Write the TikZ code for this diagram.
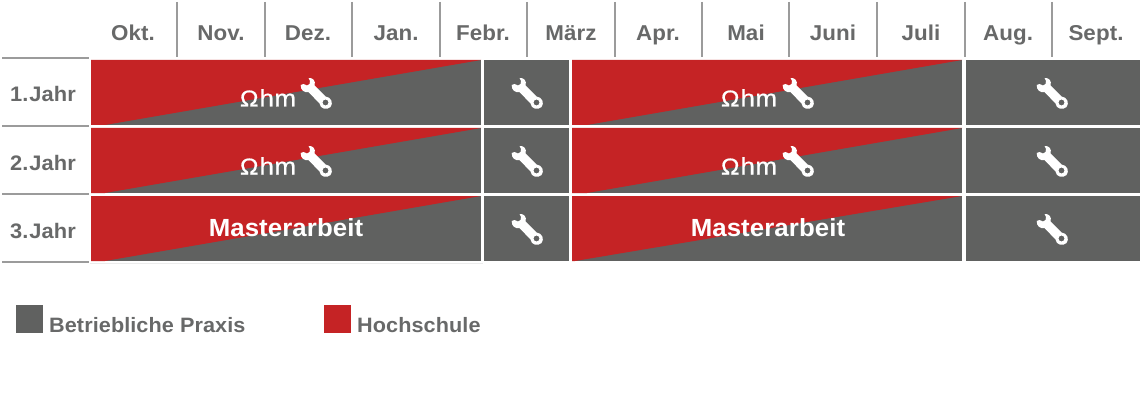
\documentclass[tikz,border=0pt]{standalone}
\usepackage{fontspec}
\setmainfont[LetterSpace=0.4,FakeStretch=1.04]{Liberation Sans}
\newfontfamily\logofont[FakeStretch=1.08,FakeBold=0.6]{Liberation Sans}
\definecolor{dgray}{RGB}{96,97,96}
\definecolor{dred}{RGB}{197,35,37}
\definecolor{lineg}{RGB}{155,155,155}
\definecolor{txtg}{RGB}{104,105,105}
\tikzset{
  x=1pt,y=-1pt,
  grayblock/.style={fill=dgray,draw=none},
  redwedge/.style={fill=dred,draw=none},
  headline/.style={draw=lineg,line width=1.5pt},
  rowline/.style={draw=lineg,line width=1.6pt},
  month/.style={font=\fontsize{21.5}{22}\selectfont\bfseries,text=txtg,inner sep=0pt,anchor=base},
  yearlab/.style={font=\fontsize{21}{22}\selectfont\bfseries,text=txtg,inner sep=0pt,anchor=base west},
  legend/.style={font=\fontsize{20.8}{21}\selectfont\bfseries,text=txtg,inner sep=0pt,anchor=base west},
  master/.style={font=\fontsize{24.8}{25}\selectfont\bfseries,text=white,inner sep=0pt,anchor=base},
  ohmlogo/.style={font=\logofont\fontsize{24}{25}\selectfont,text=white,inner sep=0pt,anchor=base},
  wrench/.pic={
    \fill[white,even odd rule]
      (-15.3,-8) .. controls (-15.5,-3) and (-12,0) .. (-7.5,-1)
      -- (3.5,10.5) .. controls (4,16) and (11,17.5) .. (14.5,14)
      .. controls (17.5,10.5) and (15.5,4) .. (9.5,3.5)
      -- (-1.5,-7.5) .. controls (0,-12) and (-3,-15.5) .. (-7.5,-15)
      -- (-6,-12) -- (-6.5,-9) -- (-9,-7.5) -- (-12.5,-9) -- cycle
      (9.5,9.5) circle[radius=3];
  }
}
\newcommand{\ohmtxt}{{\fontsize{23}{23}\selectfont Ω}\kern1pt h\kern.5pt m}
\begin{document}
\begin{tikzpicture}
\useasboundingbox (0,0) rectangle (1140,401);
\fill[white] (0,0) rectangle (1140,401);
% header ticks
\foreach \x in {177,265,352,440,527,615,702,789,877,965,1052}
  \draw[headline] (\x,2) -- (\x,57);
% months
\foreach \x/\t in {133/Okt.,221/Nov.,308/Dez.,396/Jan.,483/Febr.,571/März,658/Apr.,746/Mai,833/Juni,921/Juli,1008/Aug.,1096/Sept.}
  \node[month] at (\x,41) {\t};
% row lines
\foreach \y in {58,126,194,262}
  \draw[rowline] (2,\y) -- (89,\y);
% years
\node[yearlab] (y1) at (10,101.5) {1.\kern1pt Jahr};
\node[yearlab] (y2) at (10,170.5) {2.\kern1pt Jahr};
\node[yearlab] (y3) at (10,238.5) {3.\kern1pt Jahr};
% blocks
\draw[gray!15,line width=1.5pt] (90,263.5) -- (483,263.5);
\foreach \yy in {60,128,196}{
  \fill[grayblock] (91,\yy) rectangle (481,\yy+65);
  \fill[redwedge] (91,\yy) -- (481,\yy) -- (105,\yy+65) -- (91,\yy+65) -- cycle;
  \fill[grayblock] (484,\yy) rectangle (569,\yy+65);
  \fill[grayblock] (572,\yy) rectangle (962,\yy+65);
  \fill[grayblock] (966,\yy) rectangle (1140,\yy+65);
  \pic at (527,\yy+33) {wrench};
  \pic at (1052,\yy+33) {wrench};
}
\foreach \yy in {60,128}
  \fill[redwedge] (572,\yy) -- (962,\yy) -- (587,\yy+65) -- (572,\yy+65) -- cycle;
\fill[redwedge] (572,196) -- (962,196) -- (575,261) -- (572,261) -- cycle;
\pic at (316,93) {wrench};
\pic at (798,93) {wrench};
\pic at (316,161) {wrench};
\pic at (798,161) {wrench};
\node[ohmlogo] (o1) at (268,106.5) {\ohmtxt};
\node[ohmlogo] (o2) at (749,106.5) {\ohmtxt};
\node[ohmlogo] (o3) at (268,174.5) {\ohmtxt};
\node[ohmlogo] (o4) at (749,174.5) {\ohmtxt};
\node[master] (m1) at (286,236.5) {Masterarbeit};
\node[master] (m2) at (768,236.5) {Masterarbeit};
% legend
\fill[grayblock] (16,305) rectangle (43,333);
\fill[redwedge] (324,305) rectangle (351,333);
\node[legend] (l1) at (49,332) {Betriebliche Praxis};
\node[legend] (l2) at (357,332) {Hochschule};
\end{tikzpicture}
\end{document}
